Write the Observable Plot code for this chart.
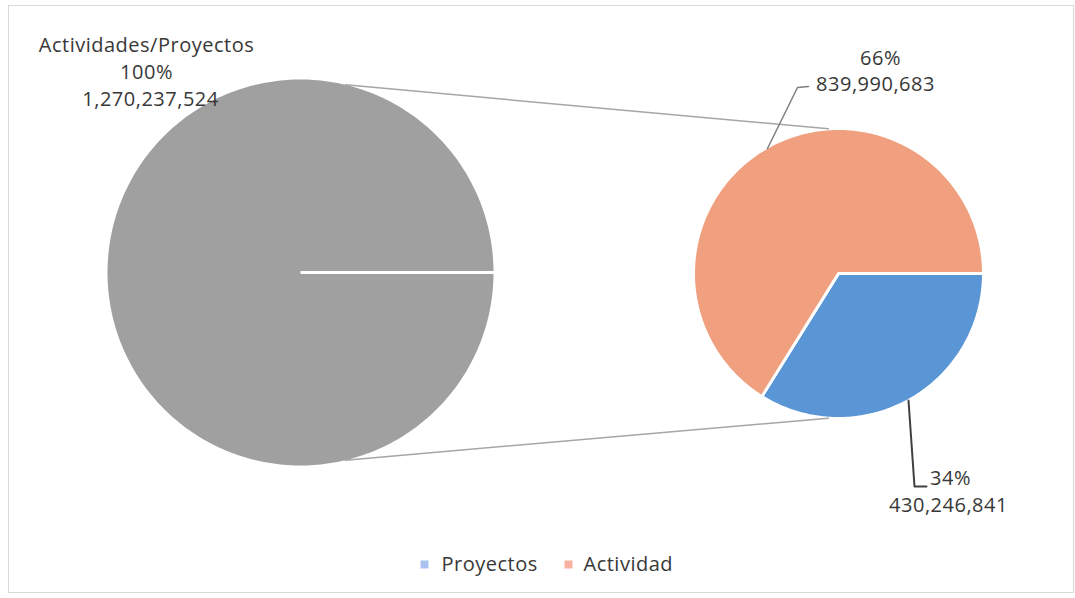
<!DOCTYPE html>
<html>
<head>
<meta charset="utf-8">
<script src="https://cdn.jsdelivr.net/npm/d3@7"></script>
<script src="https://cdn.jsdelivr.net/npm/@observablehq/plot@0.6"></script>
<style>
  html, body { margin: 0; padding: 0; background: #fff; }
  #chart svg { display: block; }
  #chart svg text { letter-spacing: 0.5px; }
</style>
</head>
<body>
<div id="chart"></div>
<script>
// ---- data ----
const totalLabel = "Actividades/Proyectos";
const totalValue = 1270237524;
const categories = ["Proyectos", "Actividad"];
const values = [430246841, 839990683];
const percentLabels = ["34%", "66%"];
const valueLabels = ["430,246,841", "839,990,683"];
const colors = ["#5a96d6", "#f0a07f"];
const legendColors = ["#a9c3ee", "#f7b3a0"];

// ---- layout ----
const W = 1075, H = 598;
const big = {cx: 300, cy: 272, r: 193};
const small = {cx: 838, cy: 273, r: 145};
const font = "'Open Sans', Lato, sans-serif";
const textColor = "#383838";

const rad = d => d * Math.PI / 180;
function slicePoly(c, a0, a1, name) {
  const pts = [{x: c.cx, y: c.cy, name}];
  const n = Math.max(2, Math.ceil(Math.abs(a1 - a0)));
  for (let i = 0; i <= n; i++) {
    const a = a0 + (a1 - a0) * i / n;
    pts.push({x: c.cx + c.r * Math.cos(rad(a)), y: c.cy + c.r * Math.sin(rad(a)), name});
  }
  pts.push({x: c.cx, y: c.cy, name});
  return pts;
}

// big pie: 100% slice, starting at 3 o'clock
const bigPoly = slicePoly(big, 0, 360 * totalValue / totalValue, totalLabel);

// small pie: clockwise from 3 o'clock
const sum = d3.sum(values);
let acc = 0;
const slices = values.map((v, i) => {
  const a0 = acc / sum * 360; acc += v;
  const a1 = acc / sum * 360;
  return {name: categories[i], a0, a1, poly: slicePoly(small, a0, a1, categories[i]), color: colors[i]};
});

const pt = (c, a) => ({x: c.cx + c.r * Math.cos(rad(a)), y: c.cy + c.r * Math.sin(rad(a))});
const connectors = [
  [pt(big, -76.5), pt(small, -94)],
  [pt(big, 76.5), pt(small, 94)]
];

const leaderAct = [{x: 767, y: 148}, {x: 797, y: 87}, {x: 808, y: 86}];
const leaderPro = [{x: 908, y: 400}, {x: 914, y: 486}, {x: 926, y: 486}];

const texts = [
  {x: 146, y: 45, t: totalLabel},
  {x: 146, y: 72, t: "100%"},
  {x: 150, y: 99, t: d3.format(",")(totalValue)},
  {x: 880, y: 58, t: percentLabels[1]},
  {x: 875, y: 84, t: valueLabels[1]},
  {x: 950, y: 478, t: percentLabels[0]},
  {x: 948, y: 505, t: valueLabels[0]}
];

const legend = [
  {x: 424, tx: 441, name: categories[0], color: legendColors[0]},
  {x: 568, tx: 583, name: categories[1], color: legendColors[1]}
];

const marks = [
  Plot.frame({stroke: "#d9d9d9", insetLeft: 8, insetTop: 5, insetRight: 2, insetBottom: 6}),
  Plot.line(bigPoly, {x: "x", y: "y", fill: "#a0a0a0", stroke: "none"}),
  Plot.link([{x1: big.cx, y1: big.cy, x2: big.cx + big.r + 1, y2: big.cy}], {x1: "x1", y1: "y1", x2: "x2", y2: "y2", stroke: "white", strokeWidth: 3}),
  ...slices.map(s => Plot.line(s.poly, {x: "x", y: "y", fill: s.color, stroke: "white", strokeWidth: 3, strokeLinejoin: "round"})),
  ...connectors.map(c => Plot.line(c, {x: "x", y: "y", stroke: "#a6a6a6", strokeWidth: 1.5})),
  Plot.line(leaderAct, {x: "x", y: "y", stroke: "#7f7f7f", strokeWidth: 1.5}),
  Plot.line(leaderPro, {x: "x", y: "y", stroke: "#404040", strokeWidth: 2}),
  Plot.text(texts, {x: "x", y: "y", text: "t", fill: textColor, fontSize: 20, fontFamily: font, textAnchor: "middle"}),
  Plot.dot(legend, {x: "x", y: 564, symbol: "square", r: 4.5, fill: "color", stroke: "none"}),
  Plot.text(legend, {x: "tx", y: 564, text: "name", fill: textColor, fontSize: 20, fontFamily: font, textAnchor: "start"})
];

const chart = Plot.plot({
  width: W, height: H,
  margin: 0,
  x: {domain: [0, W], range: [0, W], axis: null},
  y: {domain: [0, H], range: [0, H], axis: null},
  color: {type: "identity"},
  style: {background: "#fff"},
  marks
});
document.getElementById("chart").append(chart);
</script>
</body>
</html>
